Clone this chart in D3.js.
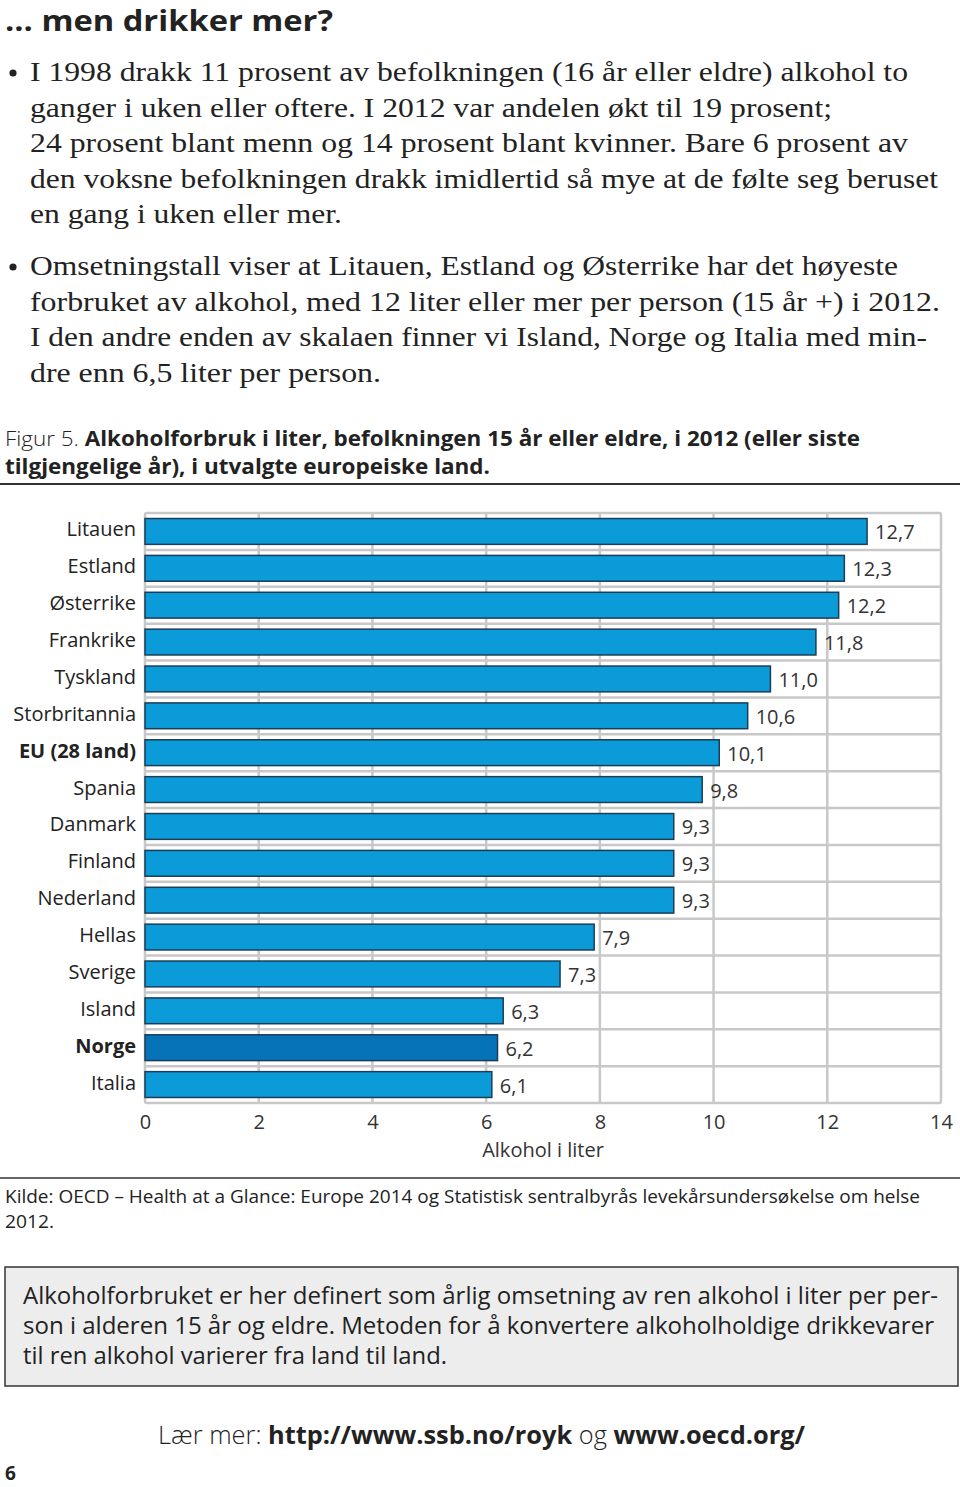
<!DOCTYPE html>
<html><head><meta charset="utf-8">
<script src="https://cdn.jsdelivr.net/npm/d3@7"></script>
<style>
html,body{margin:0;padding:0;background:#fff;}
svg{display:block;}
</style></head>
<body>
<svg id="c" width="960" height="1487"></svg>
<script>
const categories = ["Litauen","Estland","Østerrike","Frankrike","Tyskland","Storbritannia","EU (28 land)","Spania","Danmark","Finland","Nederland","Hellas","Sverige","Island","Norge","Italia"];
const values = [12.7,12.3,12.2,11.8,11.0,10.6,10.1,9.8,9.3,9.3,9.3,7.9,7.3,6.3,6.2,6.1];
const boldCategories = ["EU (28 land)","Norge"];
const highlight = ["Norge"];
const xTicks = [0,2,4,6,8,10,12,14];
const axisTitle = "Alkohol i liter";

const heading = "... men drikker mer?";
const bullet1 = ["I 1998 drakk 11 prosent av befolkningen (16 år eller eldre) alkohol to",
 "ganger i uken eller oftere. I 2012 var andelen økt til 19 prosent;",
 "24 prosent blant menn og 14 prosent blant kvinner. Bare 6 prosent av",
 "den voksne befolkningen drakk imidlertid så mye at de følte seg beruset",
 "en gang i uken eller mer."];
const bullet2 = ["Omsetningstall viser at Litauen, Estland og Østerrike har det høyeste",
 "forbruket av alkohol, med 12 liter eller mer per person (15 år +) i 2012.",
 "I den andre enden av skalaen finner vi Island, Norge og Italia med min-",
 "dre enn 6,5 liter per person."];
const sourceLines = ["Kilde: OECD – Health at a Glance: Europe 2014 og Statistisk sentralbyrås levekårsundersøkelse om helse","2012."];
const boxLines = ["Alkoholforbruket er her definert som årlig omsetning av ren alkohol i liter per per-",
 "son i alderen 15 år og eldre. Metoden for å konvertere alkoholholdige drikkevarer",
 "til ren alkohol varierer fra land til land."];

(function(){
const svg = d3.select("#c");
const SANS = "'Open Sans', 'DejaVu Sans', sans-serif";
const SERIF = "'Liberation Serif', 'DejaVu Serif', serif";

function fitText(sel, w){ if(w) sel.attr("textLength", w).attr("lengthAdjust","spacingAndGlyphs"); return sel; }

// Heading
fitText(svg.append("text").attr("x",5).attr("y",31).attr("font-family",SANS).attr("font-weight","bold")
  .attr("font-size",28).attr("fill","#222").text(heading), 328);

// Bullets
const b1W = [878,802,878,908,312];
const b2W = [868,910,897,351];
function bullets(lines, widths, y0){
  svg.append("circle").attr("cx",13).attr("cy",y0-8).attr("r",3.6).attr("fill","#222");
  lines.forEach((l,i)=>{
    fitText(svg.append("text").attr("x",30).attr("y",y0+i*35.5).attr("font-family",SERIF)
      .attr("font-size",27).attr("fill","#222").text(l), widths[i]);
  });
}
bullets(bullet1,b1W,81);
bullets(bullet2,b2W,275);

// Caption
const cap1 = svg.append("text").attr("x",5).attr("y",446).attr("font-family",SANS).attr("font-size",21).attr("fill","#222");
cap1.append("tspan").attr("font-weight","300").text("Figur 5. ");
cap1.append("tspan").attr("font-weight","bold").text("Alkoholforbruk i liter, befolkningen 15 år eller eldre, i 2012 (eller siste");
fitText(cap1, 855);
fitText(svg.append("text").attr("x",5).attr("y",474).attr("font-family",SANS).attr("font-size",21)
  .attr("font-weight","bold").attr("fill","#222").text("tilgjengelige år), i utvalgte europeiske land."), 485);
svg.append("line").attr("x1",0).attr("x2",960).attr("y1",484).attr("y2",484).attr("stroke","#333").attr("stroke-width",2);

// Chart
const pLeft=145, pRight=941, pTop=513, pBottom=1103;
const x = d3.scaleLinear().domain([0,14]).range([pLeft,pRight]);
const y = d3.scaleBand().domain(categories).range([pTop,pBottom]).paddingInner(0.3).paddingOuter(0.15);
const g = svg.append("g");
const grid="#c8c8c8";
g.append("rect").attr("x",pLeft).attr("y",pTop).attr("width",pRight-pLeft).attr("height",pBottom-pTop)
  .attr("fill","#fff").attr("stroke",grid).attr("stroke-width",2.5).attr("rx",2);
g.selectAll("line.v").data(xTicks.slice(1,-1)).join("line").attr("class","v")
  .attr("x1",d=>x(d)).attr("x2",d=>x(d)).attr("y1",pTop).attr("y2",pBottom)
  .attr("stroke",grid).attr("stroke-width",2.5);
g.selectAll("line.h").data(categories.slice(1)).join("line").attr("class","h")
  .attr("x1",pLeft).attr("x2",pRight)
  .attr("y1",d=>y(d)-y.step()*y.paddingInner()/2).attr("y2",d=>y(d)-y.step()*y.paddingInner()/2)
  .attr("stroke",grid).attr("stroke-width",2.5);
g.selectAll("rect.bar").data(categories).join("rect").attr("class","bar")
  .attr("x",x(0)).attr("y",d=>y(d)).attr("height",y.bandwidth())
  .attr("width",(d,i)=>x(values[i])-x(0))
  .attr("fill",d=>highlight.includes(d)?"#0673b8":"#0a9bd8")
  .attr("stroke","#1d3d57").attr("stroke-width",1.5);
g.selectAll("text.val").data(categories).join("text").attr("class","val")
  .attr("x",(d,i)=>x(values[i])+8).attr("y",d=>y(d)+y.bandwidth()/2+8)
  .attr("font-family",SANS).attr("font-size",20).attr("fill","#333")
  .text((d,i)=>d3.format(".1f")(values[i]).replace(".",","));
g.selectAll("text.cat").data(categories).join("text").attr("class","cat")
  .attr("x",136).attr("y",d=>y(d)+y.bandwidth()/2+5)
  .attr("text-anchor","end").attr("font-family",SANS).attr("font-size",20)
  .attr("font-weight",d=>boldCategories.includes(d)?"bold":"normal")
  .attr("fill","#222").text(d=>d);
const ax = svg.append("g").attr("transform",`translate(0,${pBottom})`)
  .call(d3.axisBottom(x).tickValues(xTicks).tickSize(0).tickPadding(0).tickFormat(d=>d));
ax.select(".domain").remove();
ax.selectAll("text").attr("font-family",SANS).attr("font-size",20).attr("fill","#333").attr("dy",0).attr("y",26);
svg.append("text").attr("x",x(7)).attr("y",1157).attr("text-anchor","middle").attr("font-family",SANS)
  .attr("font-size",20).attr("fill","#333").text(axisTitle);

// Source
svg.append("line").attr("x1",0).attr("x2",960).attr("y1",1178).attr("y2",1178).attr("stroke","#333").attr("stroke-width",1.5);
fitText(svg.append("text").attr("x",5).attr("y",1203).attr("font-family",SANS).attr("font-size",19).attr("fill","#222").text(sourceLines[0]),915);
fitText(svg.append("text").attr("x",5).attr("y",1228).attr("font-family",SANS).attr("font-size",19).attr("fill","#222").text(sourceLines[1]),49);

// Box
svg.append("rect").attr("x",5).attr("y",1267).attr("width",953).attr("height",119).attr("fill","#ededed").attr("stroke","#333").attr("stroke-width",1.5);
const bW=[915,911,424];
boxLines.forEach((l,i)=>{
  fitText(svg.append("text").attr("x",23).attr("y",1304+i*30).attr("font-family",SANS).attr("font-size",24).attr("fill","#222").text(l), bW[i]);
});

// Learn more
const lm = svg.append("text").attr("x",158).attr("y",1444).attr("font-family",SANS).attr("font-size",25).attr("fill","#222");
lm.append("tspan").attr("font-weight","300").text("Lær mer: ");
lm.append("tspan").attr("font-weight","bold").text("http://www.ssb.no/royk");
lm.append("tspan").attr("font-weight","300").text(" og ");
lm.append("tspan").attr("font-weight","bold").text("www.oecd.org/");
fitText(lm,647);

svg.append("text").attr("x",5).attr("y",1480).attr("font-family",SANS).attr("font-weight","bold").attr("font-size",19).attr("fill","#222").text("6");
})();
</script>
</body></html>
